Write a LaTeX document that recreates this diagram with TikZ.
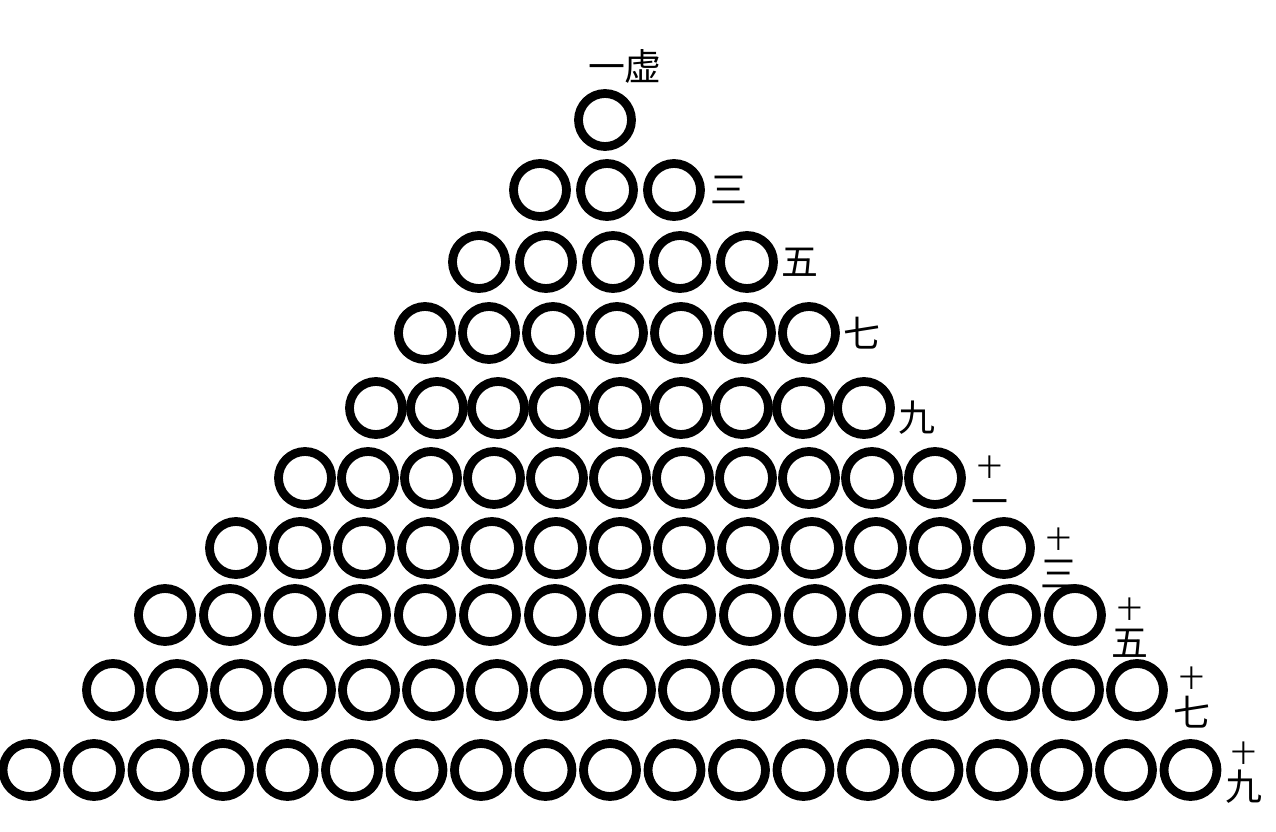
\documentclass[tikz,border=0pt]{standalone}
\usepackage{fontspec}
\newfontfamily\cjk{Noto Sans CJK SC}
\usetikzlibrary{positioning}
\tikzset{
  bead/.style={circle, draw=black, line width=5pt, minimum size=1.06cm, inner sep=0pt},
  numlab/.style={inner sep=1pt, font=\cjk\fontsize{21}{22}\selectfont, align=center},
}
\newcommand{\smallten}{{\fontsize{14}{14}\selectfont 十}}

\begin{document}
\begin{tikzpicture}[x=0.02cm, y=-0.02cm]
    \useasboundingbox (0,0) rectangle (1276,832);
    % rows of beads: row/y/centre/spacing
    \foreach \r/\y/\cx/\dx in {1/120/605/0, 2/190/607/67, 3/262/613/67,
        4/333/617/64, 5/408/620/61, 6/478/620/63, 7/548/620/64,
        8/615/620/65, 9/690/625/64, 10/770/610/64.5} {
        \pgfmathtruncatemacro{\n}{2*\r-1}
        \foreach \k in {1,...,\n} {
            \node[bead] (b-\r-\k) at ({\cx+(\k-(\n+1)/2)*\dx}, \y) {};
        }
    }
    % labels
    \node[numlab, above=2pt of b-1-1, xshift=0.4cm] (lab1) {一虚};
    \node[numlab, right=2pt of b-2-3] (lab3) {三};
    \node[numlab, right=1pt of b-3-5] (lab5) {五};
    \node[numlab, right=1pt of b-4-7] (lab7) {七};
    \node[numlab, right=1pt of b-5-9, yshift=-0.2cm] (lab9) {九};
    \node[numlab, right=2pt of b-6-11, yshift=-0.15cm] (lab11) {\smallten\\一};
    \node[numlab, right=2pt of b-7-13, yshift=-0.2cm] (lab13) {\smallten\\三};
    \node[numlab, right=2pt of b-8-15, yshift=-0.25cm] (lab15) {\smallten\\五};
    \node[numlab, right=2pt of b-9-17, yshift=-0.15cm] (lab17) {\smallten\\七};
    \node[numlab, right=1pt of b-10-19, yshift=-0.05cm] (lab19) {\smallten\\九};
\end{tikzpicture}
\end{document}
